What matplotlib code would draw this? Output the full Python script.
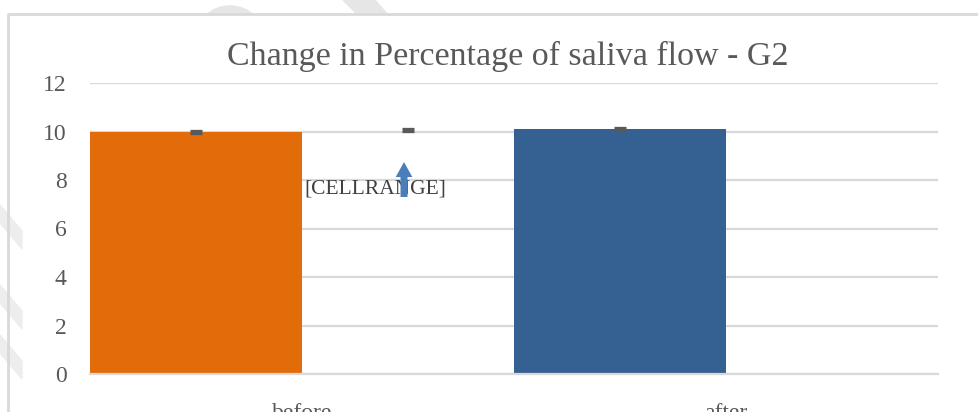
import matplotlib
matplotlib.use("Agg")
import matplotlib.pyplot as plt
from matplotlib.lines import Line2D
from matplotlib.patches import Wedge, Rectangle, Polygon
from matplotlib.transforms import IdentityTransform

categories = ["before", "after"]
bar_values = [10.0, 10.1]
bar_colors = ["#E36C0A", "#356092"]
marker_values = [10.0, 10.05, 10.1]   # small dark markers over the bars / gap
yticks = [0, 2, 4, 6, 8, 10, 12]
title = "Change in Percentage of saliva flow - G2"

serif = "Liberation Serif"
W, H = 979, 412
fig = plt.figure(figsize=(W / 100, H / 100), dpi=100)

# faint watermark from the source page (pixel coords, y up)
px = IdentityTransform()
wm = "#e6e6e6"
fig.add_artist(Wedge((230, H - 42), 36, 0, 360, width=16, color=wm, transform=px, zorder=0))
fig.add_artist(Polygon([(343, H), (375, H), (388, H - 15), (358, H - 15)],
                       color=wm, transform=px, zorder=0))
fig.add_artist(Rectangle((9, 0), W - 9, H - 15, color="white", transform=px, zorder=0.5))
for y0 in [205, 285, 335]:
    fig.add_artist(Polygon([(0, H - y0), (0, H - y0 - 18), (22, H - y0 - 44), (22, H - y0 - 26)],
                           color="#ededed", transform=px, zorder=0.6))

ax = fig.add_axes([90 / W, (H - 374) / H, (938 - 90) / W, (374 - 83) / H])
ax.set_zorder(1)

# each category holds two slots, first slot gets the bar
cat_pos = [0.5, 1.5]
bar_pos = [c - 0.25 for c in cat_pos]
ax.bar(bar_pos, bar_values, width=0.5, color=bar_colors, zorder=2)

marker_pos = [bar_pos[0], cat_pos[0] + 0.25, bar_pos[1]]
ax.plot(marker_pos, marker_values, ls="none", marker="_", ms=9, mew=3.8,
        color="#595959", zorder=3)

ax.set_xlim(0, 2)
ax.set_ylim(0, 12)
ax.set_yticks(yticks)
ax.set_xticks(cat_pos)
ax.set_xticklabels(categories)
ax.yaxis.grid(True, color="#d9d9d9", lw=1.6, zorder=0)
ax.set_axisbelow(True)
for s in ["top", "right", "left"]:
    ax.spines[s].set_visible(False)
ax.spines["bottom"].set_color("#d9d9d9")
ax.spines["bottom"].set_linewidth(1.6)
ax.tick_params(length=0, labelsize=17, labelcolor="#595959")
ax.tick_params(axis="y", pad=17)
ax.tick_params(axis="x", pad=21)
for lab in ax.get_xticklabels() + ax.get_yticklabels():
    lab.set_fontfamily(serif)

# stray data label and arrow
ax.text(0.672, 7.63, "[CELLRANGE]", fontsize=15.5, family=serif, color="#404040",
        ha="center", va="center", zorder=4)
ax.annotate("", xy=(0.7406, 8.74), xytext=(0.7406, 7.3),
            arrowprops=dict(arrowstyle="simple,head_width=1.0,head_length=0.9,tail_width=0.42",
                            color="#4A7EBB", lw=0, mutation_scale=12, shrinkA=0, shrinkB=0),
            zorder=5)

fig.text(508 / W, 1 - 65 / H, title, fontsize=24.5, family=serif,
         color="#595959", ha="center", va="baseline")

# chart frame
fig.add_artist(Line2D([8 / W, 8 / W, 1], [0, 1 - 14 / H, 1 - 14 / H],
                      transform=fig.transFigure, color="#d9d9d9", lw=2, zorder=2))

fig.savefig("out.png", dpi=100)
